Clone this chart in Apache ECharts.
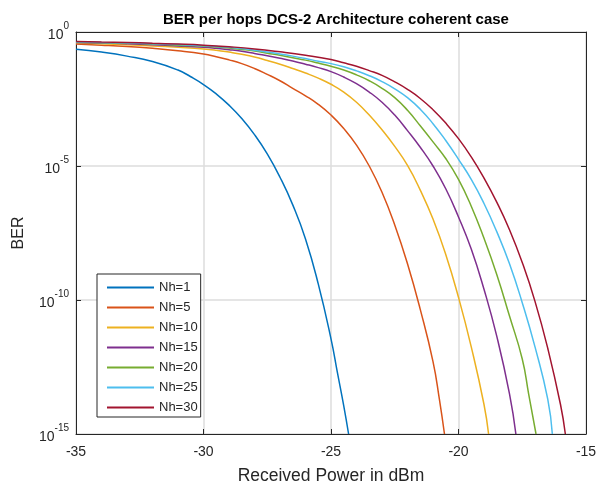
<!DOCTYPE html>
<html>
<head>
<meta charset="utf-8">
<script src="https://cdn.jsdelivr.net/npm/echarts@6/dist/echarts.min.js"></script>
<style>
html,body{margin:0;padding:0;background:#fff;}
#chart{width:597px;height:488px;}
</style>
</head>
<body>
<div id="chart"></div>
<script>
// Received power (dBm) and log10(BER), per curve
const seriesNames = ['Nh=1', 'Nh=5', 'Nh=10', 'Nh=15', 'Nh=20', 'Nh=25', 'Nh=30'];

const xNh1  = [-35, -34, -33, -32, -31, -30.5, -30, -29.5, -29, -28.5, -28, -27.5, -27, -26.5, -26, -25.5, -25, -24.75, -24.5, -24.31];
const lgNh1 = [-0.64, -0.75, -0.90, -1.10, -1.42, -1.67, -1.96, -2.31, -2.73, -3.23, -3.83, -4.55, -5.42, -6.45, -7.72, -9.4, -11.45, -12.7, -13.95, -15];

const xNh5  = [-35, -34, -33, -32, -31, -30, -29.5, -29, -28.5, -28, -27.5, -27, -26.5, -26, -25.5, -25, -24.5, -24, -23.5, -23, -22.5, -22, -21.5, -21, -20.75, -20.55];
const lgNh5 = [-0.45, -0.49, -0.54, -0.61, -0.70, -0.82, -0.92, -1.04, -1.18, -1.36, -1.58, -1.82, -2.1, -2.38, -2.7, -3.1, -3.6, -4.22, -5.0, -5.98, -7.2, -8.65, -10.35, -12.3, -13.7, -15];

const xNh10  = [-35, -34, -33, -32, -31, -30, -29.5, -29, -28.5, -28, -27.5, -27, -26.5, -26, -25.5, -25, -24.5, -24, -23.5, -23, -22.5, -22, -21.5, -21, -20.5, -20, -19.5, -19, -18.82];
const lgNh10 = [-0.41, -0.44, -0.48, -0.52, -0.57, -0.63, -0.68, -0.75, -0.83, -0.93, -1.06, -1.2, -1.36, -1.53, -1.72, -1.95, -2.24, -2.62, -3.1, -3.65, -4.27, -4.98, -5.9, -6.98, -8.3, -9.9, -11.75, -13.9, -15];

const xNh15  = [-35, -34, -33, -32, -31, -30, -29.5, -29, -28.5, -28, -27.5, -27, -26.5, -26, -25.5, -25, -24.5, -24, -23.5, -23, -22.5, -22, -21.5, -21, -20.5, -20, -19.5, -19, -18.5, -18, -17.75];
const lgNh15 = [-0.39, -0.41, -0.44, -0.48, -0.52, -0.57, -0.61, -0.66, -0.72, -0.80, -0.89, -0.98, -1.08, -1.2, -1.33, -1.48, -1.68, -1.93, -2.24, -2.62, -3.1, -3.68, -4.3, -5.0, -5.85, -6.9, -8.1, -9.6, -11.35, -13.5, -15];

const xNh20  = [-35, -34, -33, -32, -31, -30, -29.5, -29, -28.5, -28, -27.5, -27, -26.5, -26, -25.5, -25, -24.5, -24, -23.5, -23, -22.5, -22, -21.5, -21, -20.5, -20, -19.5, -19, -18.5, -18, -17.5, -17.25, -16.96];
const lgNh20 = [-0.38, -0.40, -0.42, -0.45, -0.49, -0.53, -0.56, -0.60, -0.65, -0.71, -0.79, -0.87, -0.96, -1.05, -1.16, -1.28, -1.42, -1.6, -1.82, -2.1, -2.45, -2.92, -3.5, -4.1, -4.72, -5.5, -6.5, -7.7, -9.05, -10.6, -12.2, -13.5, -15];

const xNh25  = [-35, -34, -33, -32, -31, -30, -29.5, -29, -28.5, -28, -27.5, -27, -26.5, -26, -25.5, -25, -24.5, -24, -23.5, -23, -22.5, -22, -21.5, -21, -20.5, -20, -19.5, -19, -18.5, -18, -17.5, -17, -16.5, -16.32];
const lgNh25 = [-0.37, -0.39, -0.41, -0.44, -0.47, -0.51, -0.54, -0.57, -0.62, -0.68, -0.75, -0.82, -0.9, -0.99, -1.09, -1.18, -1.3, -1.45, -1.63, -1.85, -2.12, -2.45, -2.88, -3.42, -4.05, -4.75, -5.5, -6.4, -7.45, -8.65, -10.1, -11.75, -13.7, -15];

const xNh30  = [-35, -34, -33, -32, -31, -30, -29, -28, -27, -26, -25, -24.5, -24, -23.5, -23, -22.5, -22, -21.5, -21, -20.5, -20, -19.5, -19, -18.5, -18, -17.5, -17, -16.5, -16, -15.81];
const lgNh30 = [-0.35, -0.37, -0.39, -0.42, -0.45, -0.49, -0.55, -0.63, -0.74, -0.87, -1.03, -1.15, -1.28, -1.44, -1.62, -1.86, -2.14, -2.48, -2.9, -3.4, -3.98, -4.66, -5.45, -6.35, -7.38, -8.6, -10.05, -11.8, -13.9, -15];

const xTicks = [-35, -30, -25, -20, -15];
const yTickExponents = [0, -5, -10, -15];

const colors = ['#0072BD', '#D95319', '#EDB120', '#7E2F8E', '#77AC30', '#4DBEEE', '#A2142F'];

const xs = [xNh1, xNh5, xNh10, xNh15, xNh20, xNh25, xNh30];
const lgs = [lgNh1, lgNh5, lgNh10, lgNh15, lgNh20, lgNh25, lgNh30];

const FONT = '"Liberation Sans", Arial, Helvetica, sans-serif';
const AX = '#262626';

const series = seriesNames.map((name, i) => ({
  name: name,
  type: 'line',
  xAxisIndex: 0,
  yAxisIndex: 0,
  symbol: 'none',
  showSymbol: false,
  smooth: 0.5,
  clip: true,
  lineStyle: { color: colors[i], width: 1.5 },
  itemStyle: { color: colors[i] },
  data: xs[i].map((x, k) => [x, Math.pow(10, lgs[i][k])])
}));

const common = {
  axisLine: { show: true, lineStyle: { color: AX, width: 1 } },
  axisTick: { show: true, inside: true, length: 5, lineStyle: { color: AX, width: 1 } }
};

const option = {
  animation: false,
  backgroundColor: '#fff',
  title: {
    text: 'BER per hops DCS-2 Architecture coherent case',
    left: 331,
    top: 7,
    textAlign: 'center',
    textStyle: { fontFamily: FONT, fontSize: 15, fontWeight: 'bold', color: '#000' }
  },
  grid: { left: 76, right: 11, top: 32, bottom: 54, containLabel: false, outerBoundsMode: 'none' },
  legend: {
    orient: 'vertical',
    left: 97,
    top: 274,
    icon: 'rect',
    itemWidth: 47,
    itemHeight: 2,
    itemGap: 5,
    padding: [6, 3, 2, 10],
    borderColor: '#262626',
    borderWidth: 1,
    backgroundColor: '#fff',
    textStyle: { fontFamily: FONT, fontSize: 13, color: AX, lineHeight: 15 },
    data: seriesNames
  },
  xAxis: [
    Object.assign({
      type: 'value', position: 'bottom', min: -35, max: -15, interval: 5,
      name: 'Received Power in dBm', nameLocation: 'middle', nameGap: 33,
      nameTextStyle: { fontFamily: FONT, fontSize: 17.5, color: AX },
      axisLabel: { fontFamily: FONT, fontSize: 14, color: AX, margin: 11,
        formatter: v => (xTicks.indexOf(v) >= 0 ? String(v) : '') },
      splitLine: { show: true, lineStyle: { color: '#dcdcdc', width: 1.5 } }
    }, common),
    Object.assign({
      type: 'value', position: 'top', min: -35, max: -15, interval: 5,
      axisLabel: { show: false }, splitLine: { show: false }
    }, common)
  ],
  yAxis: [
    Object.assign({
      type: 'log', logBase: 10, position: 'left', min: 1e-15, max: 1, interval: 5,
      name: 'BER', nameLocation: 'middle', nameGap: 49,
      nameTextStyle: { fontFamily: FONT, fontSize: 16, color: AX },
      minorTick: { show: false },
      axisLabel: {
        margin: 7,
        formatter: v => {
          const e = Math.round(Math.log10(v));
          return yTickExponents.indexOf(e) >= 0 ? '{b|10}{s|' + e + '}' : '';
        },
        rich: {
          b: { fontFamily: FONT, fontSize: 14, color: AX, verticalAlign: 'bottom', padding: [7, 0, 0, 0] },
          s: { fontFamily: FONT, fontSize: 10, color: AX, verticalAlign: 'top' }
        }
      },
      splitLine: { show: true, lineStyle: { color: '#dcdcdc', width: 1.5 } }
    }, common),
    Object.assign({
      type: 'log', logBase: 10, position: 'right', min: 1e-15, max: 1, interval: 5,
      axisLabel: { show: false }, splitLine: { show: false }
    }, common)
  ],
  series: series
};

const chart = echarts.init(document.getElementById('chart'), null, { renderer: 'canvas' });
chart.setOption(option);
</script>
</body>
</html>
